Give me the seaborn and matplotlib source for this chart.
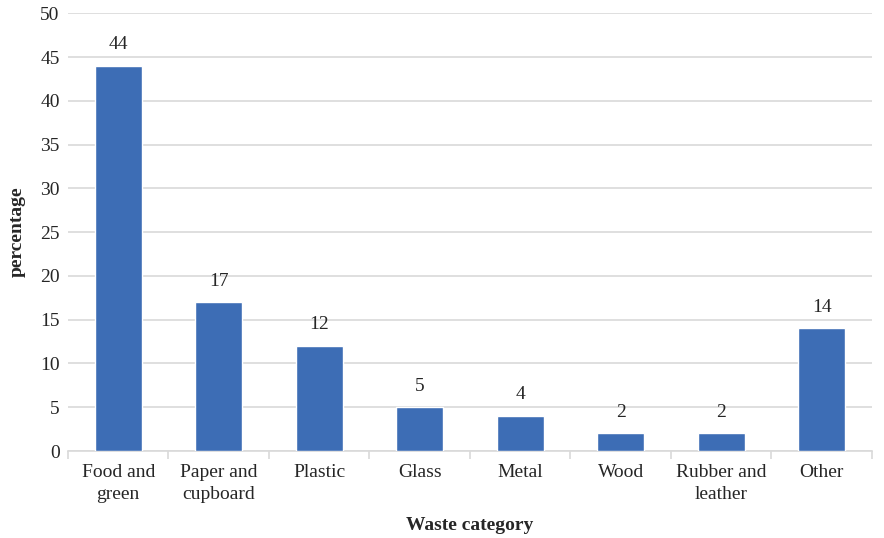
import matplotlib
matplotlib.use("Agg")
import matplotlib.pyplot as plt
import seaborn as sns
import numpy as np
import pandas as pd

categories = ["Food and\ngreen", "Paper and\ncupboard", "Plastic", "Glass",
              "Metal", "Wood", "Rubber and\nleather", "Other"]
percentages = [44, 17, 12, 5, 4, 2, 2, 14]
y_ticks = [0, 5, 10, 15, 20, 25, 30, 35, 40, 45, 50]

df = pd.DataFrame({"category": categories, "percentage": percentages})

sns.set_theme(style="white")
plt.rcParams["font.family"] = ["Liberation Serif", "DejaVu Serif"]

bar_color = "#3D6DB5"
grid_color = "#D9D9D9"
text_color = "#262626"
fs = 14

fig = plt.figure(figsize=(8.84, 5.38), dpi=100)
ax = fig.add_axes([0.0769, 0.1617, 0.9095, 0.8136])

sns.barplot(data=df, x="category", y="percentage", color=bar_color,
            width=0.47, saturation=1, ax=ax, zorder=3)

ax.set_ylim(0, 50)
ax.set_xlim(-0.5, len(categories) - 0.5)
ax.set_yticks(y_ticks)
ax.yaxis.grid(True, color=grid_color, linewidth=1.2, zorder=0)
ax.set_axisbelow(True)

for side in ["top", "right", "left"]:
    ax.spines[side].set_visible(False)
ax.spines["bottom"].set_color(grid_color)
ax.spines["bottom"].set_linewidth(1.2)

# category separators on the x axis
ax.set_xticks(np.arange(-0.5, len(categories)), minor=True)
ax.tick_params(axis="x", which="minor", length=6, width=1.2, color=grid_color,
               direction="out", bottom=True)
ax.tick_params(axis="x", which="major", length=0, pad=9,
               labelsize=fs, labelcolor=text_color)
ax.tick_params(axis="y", length=0, pad=6, labelsize=fs, labelcolor=text_color)
for lbl in ax.get_xticklabels():
    lbl.set_linespacing(1.45)
    lbl.set_verticalalignment("top")

ax.bar_label(ax.containers[0], labels=[f"{v:g}" for v in percentages],
             padding=9, fontsize=fs, color=text_color)

ax.set_xlabel("Waste category", fontsize=fs, fontweight="bold",
              color=text_color, labelpad=10)
ax.set_ylabel("percentage", fontsize=fs, fontweight="bold",
              color=text_color, labelpad=10)

fig.savefig("out.png", dpi=100)
